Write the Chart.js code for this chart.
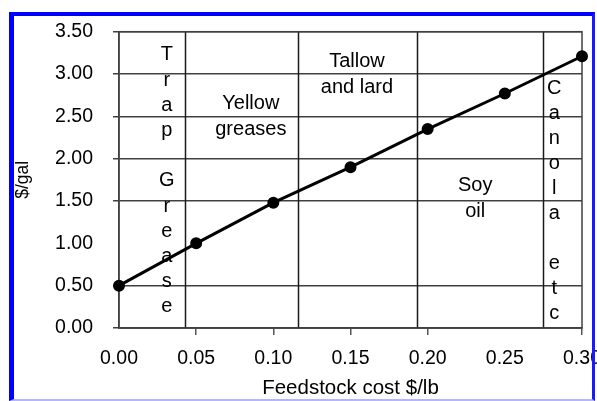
<!DOCTYPE html>
<html>
<head>
<meta charset="utf-8">
<script src="https://cdn.jsdelivr.net/npm/chart.js@4/dist/chart.umd.min.js"></script>
<style>
  html, body { margin: 0; padding: 0; background: #fff; }
  #wrap { position: relative; width: 597px; height: 401px; overflow: hidden; }
  #frame {
    position: absolute; left: 9px; top: 12px; width: 586px; height: 389px;
    box-sizing: border-box; pointer-events: none;
    border-left: 5px solid #0000ff; border-top: 4px solid #0000ff;
    border-right: 3px solid #1a1aff; border-bottom: 2px solid #b4b4ff;
  }
</style>
</head>
<body>
<div id="wrap">
  <canvas id="chart" width="597" height="401"></canvas>
  <div id="frame"></div>
</div>
<script>
// feedstock cost ($/lb) vs fuel cost ($/gal)
const costs  = [0.00, 0.05, 0.10, 0.15, 0.20, 0.25, 0.30];
const prices = [0.50, 1.00, 1.48, 1.90, 2.35, 2.77, 3.21];

const xTicks = [0, 0.05, 0.10, 0.15, 0.20, 0.25, 0.30];
const yTicks = [0, 0.5, 1.0, 1.5, 2.0, 2.5, 3.0, 3.5];

// where one feedstock ends and the next one starts
const dividers = [0.043, 0.116, 0.193, 0.275];
const feedstocks = [
  ['T', 'r', 'a', 'p', '', 'G', 'r', 'e', 'a', 's', 'e'],
  ['Yellow', 'greases'],
  ['Tallow', 'and lard'],
  ['Soy', 'oil'],
  ['C', 'a', 'n', 'o', 'l', 'a', '', 'e', 't', 'c']
];

const FONT = '"Liberation Sans", Arial, sans-serif';

const regions = {
  id: 'regions',
  beforeDatasetsDraw(chart, args, opts) {
    const {ctx, chartArea: a, scales: {x, y}} = chart;
    ctx.save();
    ctx.strokeStyle = '#1a1a1a';
    ctx.lineWidth = 1.5;
    dividers.forEach(d => {
      const px = Math.round(x.getPixelForValue(d)) + 0.5;
      ctx.beginPath();
      ctx.moveTo(px, a.top);
      ctx.lineTo(px, a.bottom);
      ctx.stroke();
    });
    ctx.strokeStyle = '#404040';
    ctx.strokeRect(a.left, a.top, a.right - a.left, a.bottom - a.top);

    ctx.fillStyle = '#000';
    ctx.font = '20px ' + FONT;
    ctx.textAlign = 'center';
    ctx.textBaseline = 'alphabetic';
    feedstocks.forEach((lines, i) => {
      const at = opts.anchors[i];
      const px = x.getPixelForValue(at.x);
      const py = y.getPixelForValue(at.y);
      lines.forEach((t, j) => ctx.fillText(t, px, py + j * at.step));
    });
    ctx.restore();
  }
};

const noLine = 'rgba(0,0,0,0)';

new Chart(document.getElementById('chart'), {
  type: 'scatter',
  data: {
    datasets: [{
      data: costs.map((c, i) => ({x: c, y: prices[i]})),
      showLine: true,
      borderColor: '#000',
      backgroundColor: '#000',
      borderWidth: 3,
      pointRadius: 4.5,
      pointHoverRadius: 4.5,
      clip: false
    }]
  },
  options: {
    responsive: false,
    animation: false,
    events: [],
    layout: { padding: { left: 0, right: 15, top: 29, bottom: 0 } },
    plugins: {
      legend: { display: false },
      tooltip: { enabled: false },
      regions: {
        anchors: [
          {x: 0.031,  y: 3.16,  step: 25.2},
          {x: 0.0854, y: 2.587, step: 26},
          {x: 0.1542, y: 3.078, step: 26},
          {x: 0.2308, y: 1.615, step: 26},
          {x: 0.282,  y: 2.762, step: 25}
        ]
      }
    },
    scales: {
      x: {
        type: 'linear',
        min: 0, max: 0.3,
        afterBuildTicks: s => { s.ticks = xTicks.map(v => ({value: v})); },
        afterFit: s => { s.height = 73; s.paddingLeft = 0; s.paddingRight = 0; },
        ticks: {
          callback: v => v.toFixed(2),
          color: '#000',
          font: { family: FONT, size: 19.5 },
          padding: 12,
          maxRotation: 0
        },
        grid: {
          drawOnChartArea: false,
          tickLength: 7,
          lineWidth: 1.5,
          color: c => (c.tick && (c.tick.value === 0 || c.tick.value === 0.25)) ? noLine : '#555'
        },
        border: { color: '#404040', width: 1.5 },
        title: {
          display: true,
          text: 'Feedstock cost $/lb',
          color: '#000',
          font: { family: FONT, size: 20.5 },
          padding: { top: 0, bottom: 0 }
        }
      },
      y: {
        min: 0, max: 3.5,
        afterBuildTicks: s => { s.ticks = yTicks.map(v => ({value: v})); },
        afterFit: s => { s.width = 119; },
        ticks: {
          callback: v => v.toFixed(2),
          color: '#000',
          font: { family: FONT, size: 19.5 },
          padding: 20
        },
        grid: {
          tickLength: 6,
          lineWidth: 1.5,
          color: c => (c.tick && c.tick.value === 1) ? noLine : '#404040'
        },
        border: { color: '#404040', width: 1.5 },
        title: {
          display: true,
          text: '$/gal',
          color: '#000',
          font: { family: FONT, size: 17.5 },
          padding: { top: 13, bottom: 0 }
        }
      }
    }
  },
  plugins: [regions]
});
</script>
</body>
</html>
